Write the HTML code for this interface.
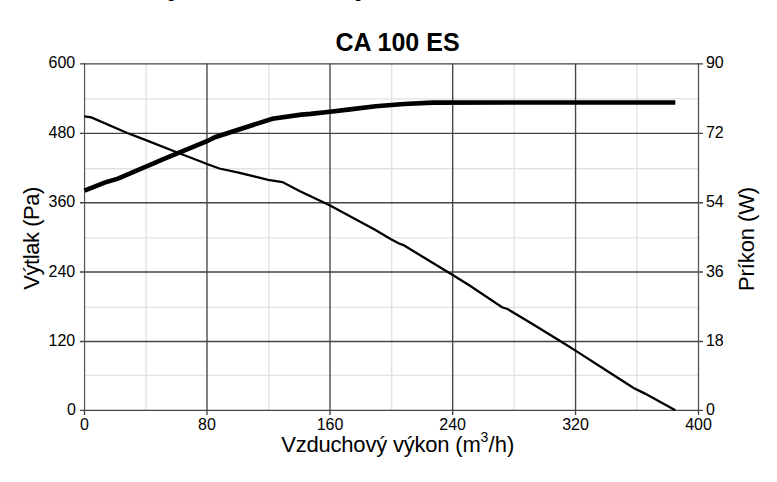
<!DOCTYPE html>
<html><head><meta charset="utf-8"><title>CA 100 ES</title>
<style>
html,body{margin:0;padding:0;background:#fff;}
body{width:777px;height:482px;overflow:hidden;}
svg{display:block;}
svg text{font-family:"Liberation Sans", Arial, Helvetica, sans-serif;fill:#000;}
</style></head><body>
<svg width="777" height="482" viewBox="0 0 777 482">
<rect width="777" height="482" fill="#fff"/>
<line x1="146.07" y1="63.5" x2="146.07" y2="410.5" stroke="#e2e2e2" stroke-width="1.35"/>
<line x1="268.80" y1="63.5" x2="268.80" y2="410.5" stroke="#e2e2e2" stroke-width="1.35"/>
<line x1="391.67" y1="63.5" x2="391.67" y2="410.5" stroke="#e2e2e2" stroke-width="1.35"/>
<line x1="514.15" y1="63.5" x2="514.15" y2="410.5" stroke="#e2e2e2" stroke-width="1.35"/>
<line x1="636.98" y1="63.5" x2="636.98" y2="410.5" stroke="#e2e2e2" stroke-width="1.35"/>
<line x1="84.5" y1="98.80" x2="698.5" y2="98.80" stroke="#e2e2e2" stroke-width="1.35"/>
<line x1="84.5" y1="168.70" x2="698.5" y2="168.70" stroke="#e2e2e2" stroke-width="1.35"/>
<line x1="84.5" y1="237.85" x2="698.5" y2="237.85" stroke="#e2e2e2" stroke-width="1.35"/>
<line x1="84.5" y1="307.35" x2="698.5" y2="307.35" stroke="#e2e2e2" stroke-width="1.35"/>
<line x1="84.5" y1="375.30" x2="698.5" y2="375.30" stroke="#e2e2e2" stroke-width="1.35"/>
<line x1="206.98" y1="63.5" x2="206.98" y2="410.5" stroke="#444" stroke-width="1.35"/>
<line x1="330.00" y1="63.5" x2="330.00" y2="410.5" stroke="#444" stroke-width="1.35"/>
<line x1="452.67" y1="63.5" x2="452.67" y2="410.5" stroke="#444" stroke-width="1.35"/>
<line x1="575.56" y1="63.5" x2="575.56" y2="410.5" stroke="#444" stroke-width="1.35"/>
<line x1="80" y1="133.30" x2="703" y2="133.30" stroke="#444" stroke-width="1.35"/>
<line x1="80" y1="202.73" x2="703" y2="202.73" stroke="#444" stroke-width="1.35"/>
<line x1="80" y1="272.03" x2="703" y2="272.03" stroke="#444" stroke-width="1.35"/>
<line x1="80" y1="341.50" x2="703" y2="341.50" stroke="#444" stroke-width="1.35"/>
<line x1="84.55" y1="63" x2="84.55" y2="411" stroke="#555" stroke-width="1.2"/>
<line x1="698.5" y1="63" x2="698.5" y2="411" stroke="#555" stroke-width="1.3"/>
<line x1="80" y1="63.8" x2="703" y2="63.8" stroke="#444" stroke-width="1.35"/>
<line x1="80" y1="410.4" x2="703" y2="410.4" stroke="#444" stroke-width="1.35"/>
<line x1="84.50" y1="410" x2="84.50" y2="415" stroke="#444" stroke-width="1.35"/>
<line x1="206.98" y1="410" x2="206.98" y2="415" stroke="#444" stroke-width="1.35"/>
<line x1="330.00" y1="410" x2="330.00" y2="415" stroke="#444" stroke-width="1.35"/>
<line x1="452.67" y1="410" x2="452.67" y2="415" stroke="#444" stroke-width="1.35"/>
<line x1="575.56" y1="410" x2="575.56" y2="415" stroke="#444" stroke-width="1.35"/>
<line x1="698.50" y1="410" x2="698.50" y2="415" stroke="#444" stroke-width="1.35"/>
<polyline points="84.5,190.7 104.6,182.6 118.0,178.6 164.0,158.9 207.0,141.2 215.0,137.2 272.4,118.7 301.3,114.6 310.6,113.9 330.0,111.8 350.0,109.4 375.7,106.3 404.0,104.0 432.4,102.6 675.3,102.5" fill="none" stroke="#000" stroke-width="4.6" stroke-linejoin="miter"/>
<polyline points="84.5,116.3 91.3,117.4 127.2,133.0 144.0,139.3 177.3,152.5 200.0,161.3 207.0,164.0 219.3,168.5 238.6,172.6 254.0,176.4 268.2,179.9 282.4,182.1 300.0,191.2 324.3,202.8 329.6,205.3 375.0,229.8 391.0,239.2 399.0,243.5 403.4,245.1 452.7,274.9 470.0,285.8 502.0,307.3 507.5,309.0 530.0,322.5 565.0,344.0 575.5,350.6 606.8,370.7 633.6,388.0 645.0,393.6 675.3,410.3" fill="none" stroke="#000" stroke-width="2.3" stroke-linejoin="miter"/>
<text x="76.0" y="415.20" text-anchor="end" font-size="16">0</text>
<text x="75.2" y="346.20" text-anchor="end" font-size="16">120</text>
<text x="75.2" y="276.73" text-anchor="end" font-size="16">240</text>
<text x="75.2" y="207.43" text-anchor="end" font-size="16">360</text>
<text x="75.2" y="138.00" text-anchor="end" font-size="16">480</text>
<text x="75.2" y="68.20" text-anchor="end" font-size="16">600</text>
<text x="705.9" y="415.20" text-anchor="start" font-size="16">0</text>
<text x="705.9" y="346.20" text-anchor="start" font-size="16">18</text>
<text x="705.9" y="276.73" text-anchor="start" font-size="16">36</text>
<text x="705.9" y="207.43" text-anchor="start" font-size="16">54</text>
<text x="705.9" y="138.00" text-anchor="start" font-size="16">72</text>
<text x="705.9" y="68.20" text-anchor="start" font-size="16">90</text>
<text x="84.50" y="430.0" text-anchor="middle" font-size="16">0</text>
<text x="206.98" y="430.0" text-anchor="middle" font-size="16">80</text>
<text x="330.00" y="430.0" text-anchor="middle" font-size="16">160</text>
<text x="452.67" y="430.0" text-anchor="middle" font-size="16">240</text>
<text x="575.56" y="430.0" text-anchor="middle" font-size="16">320</text>
<text x="698.50" y="430.0" text-anchor="middle" font-size="16">400</text>
<text x="166.7" y="-2" font-size="16">g</text>
<text x="353.8" y="-2" font-size="16">g</text>
<text x="397.5" y="50.8" text-anchor="middle" font-size="25" font-weight="bold">CA 100 ES</text>
<text x="281.2" y="451.8" font-size="22" letter-spacing="-0.2">Vzduchový výkon (m</text>
<text x="480.6" y="441.7" font-size="14">3</text>
<text x="488.6" y="451.8" font-size="22">/h)</text>
<text transform="translate(38.8 238.4) rotate(-90)" text-anchor="middle" font-size="22" letter-spacing="-0.45">Výtlak (Pa)</text>
<text transform="translate(754 239) rotate(-90)" text-anchor="middle" font-size="22" letter-spacing="-0.1">Príkon (W)</text>
</svg>
</body></html>
